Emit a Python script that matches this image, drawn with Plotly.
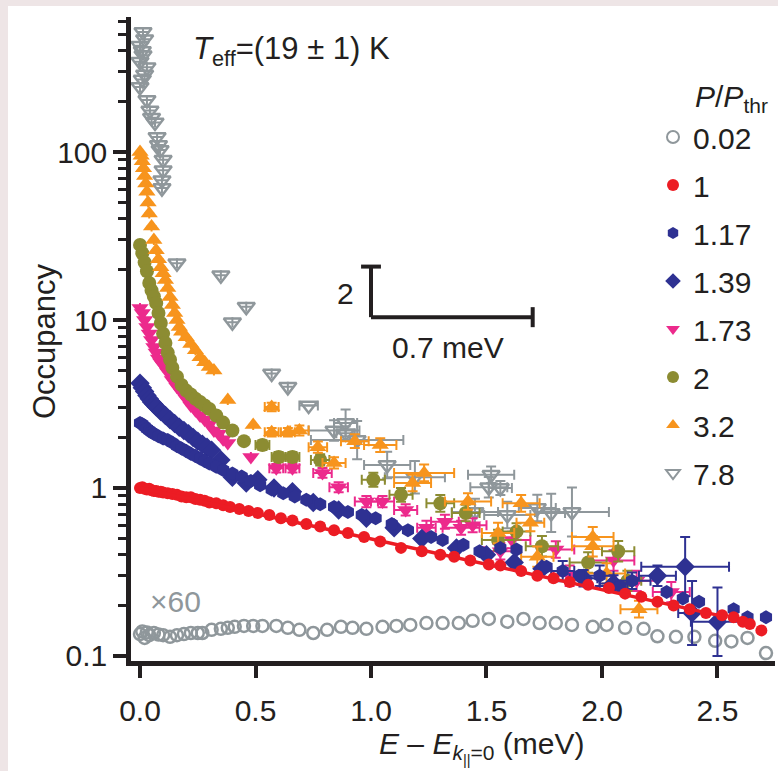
import plotly.graph_objects as go

# ---------------- data ----------------
# P/Pthr = 0.02 (x60), grey open circles
x_002 = [0.00, 0.01, 0.02, 0.03, 0.04, 0.06, 0.08, 0.10, 0.13, 0.16, 0.19, 0.22, 0.25, 0.27, 0.31,
         0.35, 0.38, 0.41, 0.45, 0.49, 0.53, 0.59, 0.64, 0.69, 0.75, 0.81, 0.87, 0.92, 0.98, 1.05,
         1.11, 1.17, 1.24, 1.31, 1.38, 1.44, 1.51, 1.59, 1.66, 1.73, 1.80, 1.87, 1.96, 2.02, 2.10,
         2.18, 2.24, 2.32, 2.40, 2.49, 2.56, 2.63, 2.71]
y_002 = [0.135, 0.14, 0.128, 0.138, 0.133, 0.137, 0.134, 0.133, 0.13, 0.133, 0.135, 0.137, 0.137, 0.137, 0.143,
         0.145, 0.147, 0.149, 0.151, 0.151, 0.151, 0.151, 0.147, 0.143, 0.137, 0.143, 0.149, 0.147, 0.145, 0.149,
         0.151, 0.153, 0.157, 0.157, 0.157, 0.162, 0.166, 0.16, 0.166, 0.157, 0.157, 0.153, 0.149, 0.153, 0.147,
         0.145, 0.131, 0.13, 0.13, 0.123, 0.122, 0.128, 0.104]

# P/Pthr = 1, red circles
x_1 = [0.00, 0.01, 0.02, 0.03, 0.04, 0.05, 0.06, 0.07, 0.08, 0.09, 0.10, 0.12, 0.14, 0.16, 0.18,
       0.20, 0.22, 0.24, 0.26, 0.28, 0.30, 0.33, 0.36, 0.39, 0.43, 0.47, 0.51, 0.56, 0.61, 0.66,
       0.72, 0.78, 0.84, 0.90, 0.97, 1.04, 1.13, 1.22, 1.30, 1.36, 1.43, 1.51, 1.56, 1.65, 1.72,
       1.79, 1.86, 1.94, 2.03, 2.10, 2.17, 2.24, 2.31, 2.38, 2.45, 2.52, 2.57, 2.61, 2.64, 2.69]
y_1 = [1.00, 1.01, 0.99, 0.98, 0.99, 0.97, 0.96, 0.96, 0.95, 0.95, 0.94, 0.93, 0.92, 0.91, 0.89,
       0.88, 0.88, 0.86, 0.85, 0.84, 0.82, 0.81, 0.79, 0.77, 0.75, 0.73, 0.71, 0.69, 0.66, 0.64,
       0.61, 0.59, 0.56, 0.54, 0.51, 0.48, 0.44, 0.42, 0.40, 0.39, 0.37, 0.35, 0.345, 0.32, 0.30,
       0.29, 0.276, 0.265, 0.254, 0.235, 0.225, 0.21, 0.20, 0.19, 0.18, 0.175, 0.17, 0.16, 0.155, 0.142]
# exponential fit drawn through the P/Pthr = 1 data
fit_x = [0.0, 2.5]
fit_y = [1.0, 0.175]

# P/Pthr = 1.17, navy hexagons
x_117 = [0.00, 0.01, 0.02, 0.03, 0.04, 0.05, 0.06, 0.08, 0.10, 0.12, 0.14, 0.16, 0.18, 0.20, 0.22,
         0.24, 0.26, 0.28, 0.30, 0.33, 0.36, 0.40, 0.44, 0.48, 0.52, 0.57, 0.62, 0.67, 0.72, 0.78,
         0.84, 0.90, 0.96, 1.02, 1.09, 1.16, 1.26, 1.31, 1.40, 1.47, 1.56, 1.63, 1.76, 1.83, 1.90,
         1.99, 2.08, 2.13, 2.28, 2.35, 2.42, 2.57, 2.63, 2.71]
y_117 = [2.44, 2.40, 2.32, 2.25, 2.20, 2.15, 2.10, 2.03, 1.97, 1.93, 1.86, 1.78, 1.72, 1.66, 1.60,
         1.55, 1.50, 1.45, 1.40, 1.34, 1.28, 1.22, 1.17, 1.10, 1.04, 0.98, 0.93, 0.89, 0.85, 0.80,
         0.77, 0.72, 0.69, 0.66, 0.61, 0.56, 0.51, 0.49, 0.46, 0.42, 0.44, 0.43, 0.34, 0.32, 0.30,
         0.30, 0.26, 0.28, 0.24, 0.22, 0.21, 0.19, 0.17, 0.17]
ex_117_tail = [0.05, 0, 0.06, 0, 0.08, 0, 0, 0, 0, 0, 0]
ef_117_tail = [1.15, 1, 1.15, 1, 1.12, 1, 1, 1, 1, 1, 1]

# P/Pthr = 1.39, navy diamonds
x_139 = [0.00, 0.01, 0.02, 0.03, 0.04, 0.05, 0.06, 0.07, 0.09, 0.11, 0.13, 0.15, 0.17, 0.19, 0.21,
         0.23, 0.25, 0.27, 0.29, 0.31, 0.35, 0.40, 0.46, 0.51, 0.58, 0.66, 0.75, 0.86, 0.98, 1.10,
         1.22, 1.37, 1.50, 1.62, 1.74, 1.92, 2.05, 2.24, 2.36, 2.39, 2.50]
y_139 = [4.2, 3.95, 3.75, 3.55, 3.4, 3.25, 3.15, 3.05, 2.85, 2.7, 2.55, 2.42, 2.3, 2.2, 2.1,
         2.0, 1.9, 1.82, 1.75, 1.68, 1.47, 1.16, 1.07, 1.12, 1.0, 0.95, 0.82, 0.74, 0.66, 0.58,
         0.50, 0.44, 0.40, 0.36, 0.33, 0.29, 0.27, 0.30, 0.34, 0.18, 0.16]
ex_139_tail = [0.06, 0.06, 0.08, 0.19, 0.06, 0.115]
ef_139_tail = [1.12, 1.12, 1.15, 1.5, 1.55, 1.6]

# P/Pthr = 1.73, magenta down-triangles
x_173 = [0.00, 0.01, 0.02, 0.03, 0.04, 0.05, 0.06, 0.07, 0.08, 0.09, 0.10, 0.12, 0.14, 0.16, 0.18,
         0.20, 0.22, 0.24, 0.26, 0.28, 0.30, 0.32, 0.34, 0.36, 0.38, 0.48, 0.59, 0.66, 0.79, 0.86,
         0.98, 1.05, 1.15, 1.24, 1.32, 1.39, 1.44, 1.56, 1.61, 1.80, 1.86, 2.05, 2.15, 2.30]
y_173 = [11.8, 11.0, 10.0, 9.1, 8.3, 7.6, 6.9, 6.4, 5.9, 5.6, 5.4, 4.9, 4.4, 4.0, 3.7,
         3.4, 3.1, 2.9, 2.7, 2.55, 2.4, 2.2, 2.1, 1.95, 1.85, 1.53, 1.31, 1.31, 1.23, 1.01,
         0.83, 0.83, 0.74, 0.58, 0.63, 0.58, 0.60, 0.42, 0.49, 0.43, 0.30, 0.37, 0.28, 0.24]
ex_173_tail = [0.03, 0.03, 0.04, 0.04, 0.05, 0.05, 0.05, 0.04, 0.06, 0.08, 0.06, 0.07, 0.08, 0.08, 0.07, 0.09, 0.09, 0.08]
ef_173_tail = [1.06, 1.06, 1.07, 1.07, 1.08, 1.08, 1.08, 1.1, 1.1, 1.1, 1.1, 1.12, 1.12, 1.12, 1.15, 1.15, 1.15, 1.15]

# P/Pthr = 2, olive circles
x_2 = [0.00, 0.01, 0.02, 0.03, 0.04, 0.05, 0.06, 0.07, 0.08, 0.09, 0.10, 0.11, 0.12, 0.13, 0.14,
       0.16, 0.18, 0.20, 0.22, 0.24, 0.26, 0.28, 0.30, 0.33, 0.36, 0.40, 0.45, 0.53, 0.60, 0.66,
       0.78, 1.01, 1.13, 1.30, 1.41, 1.55, 1.63, 1.74, 1.94, 2.07, 2.11]
y_2 = [28, 25, 22, 19.5, 16.6, 15, 13.8, 12.6, 11, 9.6, 8.3, 7.3, 6.4, 5.8, 5.2,
       4.6, 4.1, 3.8, 3.6, 3.4, 3.25, 3.1, 2.95, 2.7, 2.45, 2.2, 1.9, 1.80, 1.53, 1.53,
       1.47, 1.12, 0.91, 0.81, 0.71, 0.49, 0.55, 0.45, 0.36, 0.42, 0.28]
ex_2_tail = [0.03, 0.03, 0.03, 0.04, 0.05, 0.05, 0.06, 0.06, 0.07, 0.06, 0.07, 0.08, 0.07, 0.06]
ef_2_tail = [1.07, 1.07, 1.07, 1.08, 1.1, 1.1, 1.12, 1.12, 1.15, 1.12, 1.15, 1.15, 1.15, 1.15]

# P/Pthr = 3.2, orange up-triangles
x_32 = [0.00, 0.005, 0.01, 0.015, 0.02, 0.025, 0.03, 0.035, 0.04, 0.05, 0.06, 0.07, 0.08, 0.09, 0.10,
        0.11, 0.12, 0.13, 0.14, 0.15, 0.16, 0.17, 0.18, 0.20, 0.22, 0.24, 0.26, 0.28, 0.30, 0.32,
        0.38, 0.49, 0.57, 0.57, 0.64, 0.69, 0.77, 0.84, 0.93, 1.04, 1.18, 1.23, 1.42, 1.55, 1.65,
        1.69, 1.72, 1.96, 1.96, 2.02, 2.16]
y_32 = [100, 95, 88, 80, 72, 65, 58, 50, 43, 36, 30, 26, 23, 20.6, 19,
        17.3, 15.5, 13.7, 12.3, 11, 10, 9.1, 8.5, 7.9, 7.2, 6.6, 6.0, 5.6, 5.25, 5.0,
        3.34, 2.37, 3.03, 2.15, 2.15, 2.2, 1.75, 1.41, 1.9, 1.8, 1.07, 1.23, 0.83, 0.54, 0.81,
        0.62, 0.39, 0.51, 0.45, 0.31, 0.19]
ex_32_tail = [0.03, 0.03, 0.03, 0.04, 0.04, 0.05, 0.06, 0.07, 0.08, 0.13, 0.10, 0.07, 0.08, 0.06, 0.07, 0.09, 0.09, 0.08, 0.08]
ef_32_tail = [1.06, 1.06, 1.06, 1.07, 1.08, 1.08, 1.1, 1.1, 1.12, 1.12, 1.12, 1.15, 1.12, 1.12, 1.15, 1.15, 1.15, 1.15, 1.12]

# P/Pthr = 7.8, grey open down-triangles
x_78 = [0.013, 0.020, 0.000, 0.010, 0.013, 0.000, 0.030, 0.020, 0.010, 0.000, 0.030, 0.043, 0.050, 0.065,
        0.074, 0.080, 0.087, 0.100, 0.100, 0.095, 0.095, 0.16, 0.35, 0.46, 0.40, 0.57, 0.64, 0.73,
        0.84, 0.89, 0.89, 0.94, 1.07, 1.19, 1.52, 1.51, 1.56, 1.45, 1.59, 1.72, 1.78, 1.87]
y_78 = [518, 470, 430, 400, 377, 345, 320, 290, 270, 244, 204, 177, 160, 150,
        123, 110, 103, 90, 78, 68, 61, 21.8, 18.5, 12, 9.7, 4.8, 4.0, 3.1,
        2.2, 2.44, 2.12, 1.93, 1.37, 1.16, 1.2, 1.01, 1.0, 0.72, 0.69, 0.76, 0.71, 0.72]
ex_78_tail = [0.04, 0.11, 0.05, 0.04, 0.2, 0.1, 0.13, 0.1, 0.08, 0.05, 0.1, 0.1, 0.08, 0.06, 0.16]
ef_78_tail = [1.0, 1.15, 1.2, 1.1, 1.3, 1.2, 1.25, 1.12, 1.15, 1.1, 1.2, 1.2, 1.2, 1.3, 1.4]

x_tickvals = [0.0, 0.5, 1.0, 1.5, 2.0, 2.5]
x_ticktext = ["0.0", "0.5", "1.0", "1.5", "2.0", "2.5"]
y_tickvals = [0.1, 1, 10, 100]
y_ticktext = ["0.1", "1", "10", "100"]
y_minorvals = [0.2, 0.3, 0.4, 0.5, 0.6, 0.7, 0.8, 0.9, 2, 3, 4, 5, 6, 7, 8, 9,
               20, 30, 40, 50, 60, 70, 80, 90, 200, 300, 400, 500, 600]

# scale bar: 0.7 meV horizontally, factor 2 vertically
SB_X0, SB_DX, SB_Y0, SB_F = 1.0, 0.7, 10.4, 2.0

# ---------------- styling ----------------
FONT = "Liberation Sans, Arial, Helvetica, sans-serif"
INK = "#231f20"
C_GREY = "#8f979b"
C_RED = "#ec1c24"
C_NAVY = "#2e3192"
C_PINK = "#ec2a8c"
C_OLIVE = "#8c8c32"
C_ORANGE = "#f7941d"

W, H = 778, 771
L, R, T, B = 131, 3, 17, 110
PW, PH = W - L - R, H - T - B


def px(xp):
    return (xp - L) / PW


def py(yp):
    return (H - B - yp) / PH


def full(tail, n, fill):
    return [fill] * (n - len(tail)) + list(tail)


def err_kw(xs, ys, ex_tail, ef_tail, color):
    n = len(xs)
    ex = full(ex_tail, n, 0.0)
    ef = full(ef_tail, n, 1.0)
    up = [y * (f - 1.0) for y, f in zip(ys, ef)]
    dn = [y * (1.0 - 1.0 / f) for y, f in zip(ys, ef)]
    return dict(
        error_x=dict(type="data", array=ex, color=color, thickness=2, width=5),
        error_y=dict(type="data", array=up, arrayminus=dn, color=color, thickness=2, width=5),
    )


fig = go.Figure()


def add(xs, ys, name, color, symbol, size, rank, errs=None, open_=False):
    marker = dict(symbol=symbol, size=size, color=color)
    if open_:
        marker["line"] = dict(color=color, width=2.5)
    else:
        marker["line"] = dict(width=0)
    kw = {}
    if errs is not None:
        kw = err_kw(xs, ys, errs[0], errs[1], color)
    fig.add_trace(go.Scatter(x=xs, y=ys, mode="markers", name=name, marker=marker,
                             legendrank=rank, legendgroup=name, **kw))


add(x_002, y_002, "0.02", C_GREY, "circle-open", 12, 1, open_=True)
add(x_78, y_78, "7.8", C_GREY, "triangle-down-open", 15, 8, (ex_78_tail, ef_78_tail), open_=True)
add(x_173, y_173, "1.73", C_PINK, "triangle-down", 15, 5, (ex_173_tail, ef_173_tail))
add(x_2, y_2, "2", C_OLIVE, "circle", 14, 6, (ex_2_tail, ef_2_tail))
add(x_32, y_32, "3.2", C_ORANGE, "triangle-up", 15, 7, (ex_32_tail, ef_32_tail))
add(x_139, y_139, "1.39", C_NAVY, "diamond", 15, 4, (ex_139_tail, ef_139_tail))
add(x_117, y_117, "1.17", C_NAVY, "hexagon", 14, 3, (ex_117_tail, ef_117_tail))
add(x_1, y_1, "1", C_RED, "circle", 12, 2)
fig.add_trace(go.Scatter(x=fit_x, y=fit_y, mode="lines", line=dict(color=C_RED, width=3.5),
                         showlegend=False, hoverinfo="skip"))

# ---------------- shapes ----------------
shapes = []
BG = "#eee5e6"
shapes.append(dict(type="rect", xref="paper", yref="paper", x0=px(0), x1=px(8), y0=py(H), y1=py(0),
                   fillcolor=BG, line=dict(width=0), layer="below"))
shapes.append(dict(type="rect", xref="paper", yref="paper", x0=px(0), x1=px(W), y0=py(6), y1=py(0),
                   fillcolor=BG, line=dict(width=0), layer="below"))
sb_line = dict(color=INK, width=4)
cap_dx = 0.043
shapes += [
    dict(type="line", xref="x", yref="y", x0=SB_X0, x1=SB_X0, y0=SB_Y0, y1=SB_Y0 * SB_F, line=sb_line),
    dict(type="line", xref="x", yref="y", x0=SB_X0 - cap_dx, x1=SB_X0 + cap_dx, y0=SB_Y0 * SB_F,
         y1=SB_Y0 * SB_F, line=sb_line),
    dict(type="line", xref="x", yref="y", x0=SB_X0, x1=SB_X0 + SB_DX, y0=SB_Y0, y1=SB_Y0, line=sb_line),
    dict(type="line", xref="x", yref="y", x0=SB_X0 + SB_DX, x1=SB_X0 + SB_DX, y0=SB_Y0 / 1.147,
         y1=SB_Y0 * 1.147, line=sb_line),
]

# ---------------- annotations ----------------
def ann(text, x, y, size=30, color=INK, xanchor="center", yanchor="middle", angle=0):
    return dict(text=text, x=x, y=y, xref="paper", yref="paper", showarrow=False,
                xanchor=xanchor, yanchor=yanchor, textangle=angle,
                font=dict(family=FONT, size=size, color=color))


annotations = [
    ann("<i>T</i><sub>eff</sub>=(19 ± 1) K", px(191), py(51), size=31, xanchor="left"),
    ann("<i>P</i>/<i>P</i><sub>thr</sub>", px(693), py(99), size=30, xanchor="left"),
    ann("×60", px(148), py(601), size=30, color=C_GREY, xanchor="left"),
    ann("2", px(345), py(293), size=30),
    ann("0.7 meV", px(448), py(347), size=30),
    ann("Occupancy", px(45), py(341), size=31, angle=-90),
    ann("<i>E</i> – <i>E</i><sub><i>k</i><sub>||</sub>=0</sub> (meV)", px(481), py(747), size=30),
]

fig.update_layout(
    width=W, height=H,
    margin=dict(l=L, r=R, t=T, b=B, pad=0),
    paper_bgcolor="white", plot_bgcolor="white",
    font=dict(family=FONT, size=30, color=INK),
    showlegend=True,
    legend=dict(x=px(653), y=py(111), xanchor="left", yanchor="top",
                font=dict(family=FONT, size=30, color=INK),
                bgcolor="rgba(0,0,0,0)", borderwidth=0, itemsizing="constant",
                traceorder="grouped", tracegroupgap=6, itemwidth=30),
    xaxis=dict(range=[-0.039, 2.749], tickvals=x_tickvals, ticktext=x_ticktext,
               ticks="outside", ticklen=12, tickwidth=4, tickcolor=INK, ticklabelstandoff=7,
               showline=True, linewidth=4.5, linecolor=INK, showgrid=False, zeroline=False,
               tickfont=dict(family=FONT, size=30, color=INK)),
    yaxis=dict(type="log", range=[-1.030, 2.804], tickvals=y_tickvals, ticktext=y_ticktext,
               ticks="outside", ticklen=13, tickwidth=3.5, tickcolor=INK,
               minor=dict(tickvals=y_minorvals, ticks="outside", ticklen=8, tickwidth=3, tickcolor=INK),
               showline=True, linewidth=4.5, linecolor=INK, showgrid=False, zeroline=False,
               tickfont=dict(family=FONT, size=30, color=INK)),
    shapes=shapes,
    annotations=annotations,
)

fig.write_html("out.html", config={"displayModeBar": False},
               post_script="document.body.style.margin='0px';document.body.style.overflow='hidden';")
